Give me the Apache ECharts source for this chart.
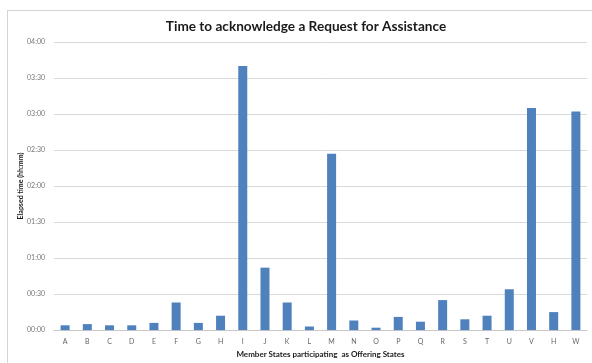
<!DOCTYPE html>
<html>
<head>
<meta charset="utf-8">
<script src="https://cdn.jsdelivr.net/npm/echarts@6/dist/echarts.min.js"></script>
<style>
  html, body { margin: 0; padding: 0; background: #ffffff; }
  #frame { position: absolute; left: 7px; top: 10px; width: 600px; height: 360px;
           border-left: 1px solid #d4d4d4; border-top: 1px solid #d4d4d4; }
  #chart { position: absolute; left: 0; top: 0; width: 592px; height: 363px; }
</style>
</head>
<body>
<div id="frame"></div>
<div id="chart"></div>
<script>
// Offering states (H appears twice in the source listing)
const states = ['A','B','C','D','E','F','G','H','I','J','K','L','M','N','O','P','Q','R','S','T','U','V','H','W'];
// Elapsed time to acknowledge, in minutes
const elapsedMinutes = [4, 5, 4, 4, 6, 23, 6, 12, 220, 52, 23, 3, 147, 8, 2, 11, 7, 25, 9, 12, 34, 185, 15, 182];
// Y axis range in minutes
const axisMax = 240;
const axisStep = 30;

function hhmm(mins) {
  const h = Math.floor(mins / 60), m = Math.round(mins % 60);
  return String(h).padStart(2, '0') + ':' + String(m).padStart(2, '0');
}

const chart = echarts.init(document.getElementById('chart'));
chart.setOption({
  animation: false,
  title: {
    text: 'Time to acknowledge a Request for Assistance',
    left: 301, top: 15, textAlign: 'center',
    textStyle: { fontFamily: 'Lato', fontWeight: 'bold', fontSize: 13.6, color: '#1a1a1a' }
  },
  grid: { left: 54, right: 5, top: 42, bottom: 31 },
  xAxis: {
    type: 'category',
    data: states,
    name: 'Member States participating  as Offering States',
    nameLocation: 'middle',
    nameGap: 19,
    nameTextStyle: { fontFamily: 'Lato', fontWeight: 'bold', fontSize: 8, color: '#1a1a1a' },
    axisLine: { lineStyle: { color: '#c8c8c8' } },
    axisTick: { show: false },
    axisLabel: { fontFamily: 'Lato', fontSize: 7, color: '#666', margin: 8 }
  },
  yAxis: {
    type: 'value',
    min: 0, max: axisMax, interval: axisStep,
    name: 'Elapsed time (hh:mm)',
    nameLocation: 'middle',
    nameGap: 30,
    nameMoveOverlap: false,
    nameRotate: 90,
    nameTextStyle: { fontFamily: 'Lato', fontWeight: 'bold', fontSize: 7, color: '#1a1a1a' },
    axisLine: { show: false },
    axisTick: { show: false },
    splitLine: { lineStyle: { color: '#d9d9d9', width: 1 } },
    axisLabel: { fontFamily: 'Lato', fontSize: 7, color: '#777', margin: 9, formatter: hhmm }
  },
  series: [{
    type: 'bar',
    data: elapsedMinutes,
    barWidth: 9,
    itemStyle: { color: '#4f81bd' }
  }]
});
</script>
</body>
</html>
